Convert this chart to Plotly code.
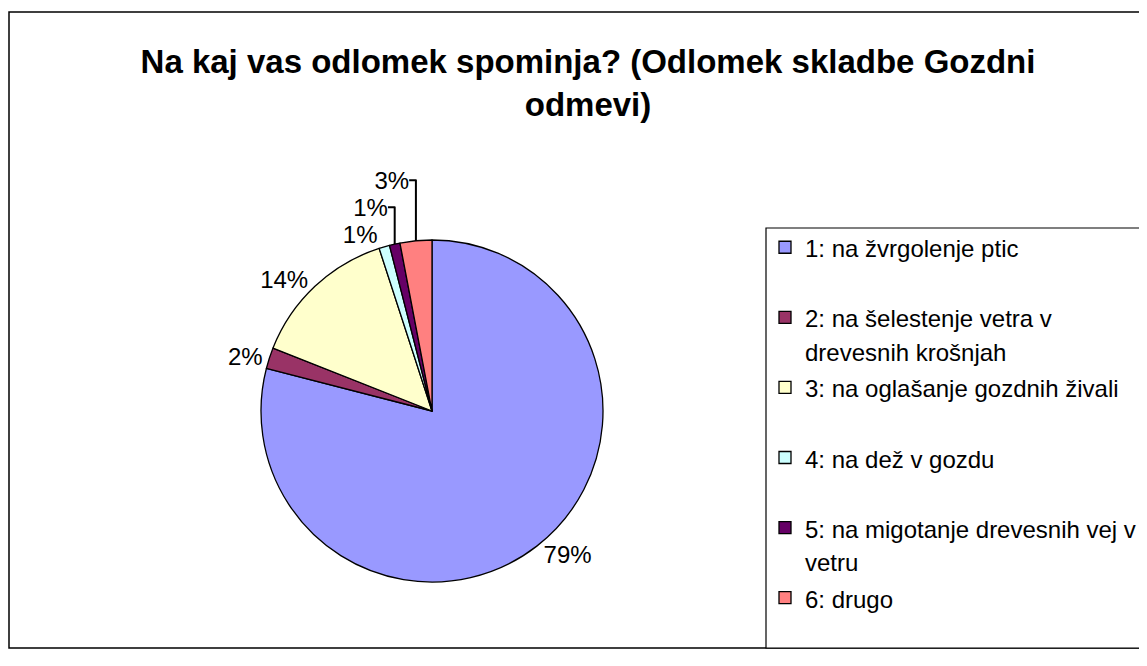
import plotly.graph_objects as go

# ---- data ----
labels = [
    "1: na žvrgolenje ptic",
    "2: na šelestenje vetra v<br>drevesnih krošnjah",
    "3: na oglašanje gozdnih živali",
    "4: na dež v gozdu",
    "5: na migotanje drevesnih vej v<br>vetru",
    "6: drugo",
]
values = [79, 2, 14, 1, 1, 3]
colors = ["#9999FF", "#993366", "#FFFFCC", "#CCFFFF", "#660066", "#FF8080"]
title_text = "Na kaj vas odlomek spominja? (Odlomek skladbe Gozdni<br>odmevi)"

W, H = 1147, 666
OFF = 8  # page body margin


def px(x):
    return (x - OFF) / W


def py(y):
    return 1 - (y - OFF) / H


FONT = "Liberation Sans, Arial, sans-serif"
LEG_TEXT = 24      # visible legend text size
LEG_LINE = 25.8    # legend font size that drives line spacing


def leg(label):
    lines = label.split("<br>")
    if len(lines) < 2:
        lines.append(" ")
    return "<br>".join(f"<span style='font-size:{LEG_TEXT}px'>{s}</span>" for s in lines)


legend_labels = [leg(l) for l in labels]

fig = go.Figure()
fig.add_trace(go.Pie(
    labels=legend_labels,
    values=values,
    sort=False,
    direction="clockwise",
    rotation=0,
    marker=dict(colors=colors, line=dict(color="black", width=1.3)),
    textposition="outside",
    texttemplate="%{percent:.0%}",
    outsidetextfont=dict(family=FONT, size=24, color="black"),
    domain=dict(x=[px(261), px(603)], y=[py(582), py(240)]),
    hoverinfo="percent",
    showlegend=True,
))

fig.update_layout(
    width=W, height=H,
    margin=dict(l=0, r=0, t=0, b=0, autoexpand=False),
    paper_bgcolor="white",
    plot_bgcolor="white",
    font=dict(family=FONT, color="black"),
    title=dict(
        text=title_text,
        x=px(588), xanchor="center",
        y=py(73), yanchor="top",
        xref="paper", yref="paper",
        font=dict(family=FONT, size=33, color="black", weight="bold"),
    ),
    legend=dict(
        x=px(765), xanchor="left",
        y=py(224), yanchor="top",
        bgcolor="rgba(0,0,0,0)",
        borderwidth=0,
        font=dict(family=FONT, size=LEG_LINE, color="black"),
        valign="top",
        traceorder="normal",
    ),
    shapes=[
        dict(
            type="rect", xref="paper", yref="paper",
            x0=px(9), x1=px(1145), y0=py(648), y1=py(12),
            line=dict(color="black", width=1.5), fillcolor="rgba(0,0,0,0)",
            layer="below",
        ),
        dict(
            type="rect", xref="paper", yref="paper",
            x0=px(766), x1=px(1145), y0=py(648), y1=py(228),
            line=dict(color="black", width=1.2), fillcolor="white",
            layer="below",
        ),
    ],
)

fig.write_html("out.html")
